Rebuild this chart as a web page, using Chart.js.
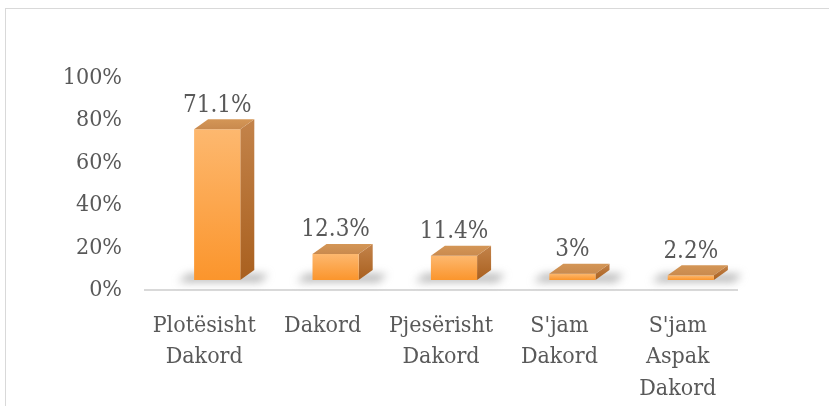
<!DOCTYPE html>
<html>
<head>
<meta charset="utf-8">
<script src="https://cdn.jsdelivr.net/npm/chart.js@4"></script>
<style>
  html, body { margin: 0; padding: 0; background: #fff; overflow: hidden; }
  #wrap { position: relative; width: 829px; height: 406px; }
  #frame { position: absolute; left: 5px; top: 8px; width: 900px; height: 500px; border: 1.5px solid #d9d9d9; box-sizing: border-box; }
  canvas { position: absolute; left: 0; top: 0; }
</style>
</head>
<body>
<div id="wrap">
  <div id="frame"></div>
  <canvas id="chart" width="829" height="406"></canvas>
</div>
<script>
const categories = [['Plotësisht', 'Dakord'], ['Dakord'], ['Pjesërisht', 'Dakord'], ["S'jam", 'Dakord'], ["S'jam", 'Aspak', 'Dakord']]
const values = [71.1, 12.3, 11.4, 3, 2.2]
const valueLabels = ['71.1%', '12.3%', '11.4%', '3%', '2.2%']
const tickLabels = ['0%', '20%', '40%', '60%', '80%', '100%']

const FONT = "'DejaVu Serif Condensed', 'DejaVu Serif', serif"
const TEXT = '#595959'

// draws each bar as an Excel-like 3D box from the bar element geometry
const box3d = {
    id: 'box3d',
    afterDatasetsDraw(chart) {
        const ctx = chart.ctx
        const meta = chart.getDatasetMeta(0)
        const dx = 13, dy = -10, dep = 14, rise = 10
        meta.data.forEach((bar, i) => {
            const p = bar.getProps(['x', 'y', 'base', 'width'], true)
            const fl = p.x - p.width / 2 + dx
            const fr = fl + p.width
            const ft = p.y + dy
            const fb = p.base + dy

            // floor shadow
            ctx.save()
            ctx.filter = 'blur(4px)'
            ctx.fillStyle = 'rgba(120,120,120,0.55)'
            ctx.beginPath()
            ctx.moveTo(fl - 16, fb + 2)
            ctx.lineTo(fr + 20, fb + 2)
            ctx.lineTo(fr + 28, fb - 6)
            ctx.lineTo(fl - 6, fb - 6)
            ctx.closePath()
            ctx.fill()
            ctx.restore()

            // side
            let g = ctx.createLinearGradient(0, ft - rise, 0, fb)
            g.addColorStop(0, '#c3834a')
            g.addColorStop(1, '#a9601f')
            ctx.fillStyle = g
            ctx.beginPath()
            ctx.moveTo(fr, ft)
            ctx.lineTo(fr + dep, ft - rise)
            ctx.lineTo(fr + dep, fb - rise)
            ctx.lineTo(fr, fb)
            ctx.closePath()
            ctx.fill()

            // front
            g = ctx.createLinearGradient(0, ft, 0, fb)
            g.addColorStop(0, '#fdb86f')
            g.addColorStop(1, '#fb952c')
            ctx.fillStyle = g
            ctx.fillRect(fl, ft, p.width, fb - ft)

            // top
            g = ctx.createLinearGradient(0, ft - rise, 0, ft)
            g.addColorStop(0, '#d49656')
            g.addColorStop(1, '#c98a4e')
            ctx.fillStyle = g
            ctx.beginPath()
            ctx.moveTo(fl, ft)
            ctx.lineTo(fr, ft)
            ctx.lineTo(fr + dep, ft - rise)
            ctx.lineTo(fl + dep, ft - rise)
            ctx.closePath()
            ctx.fill()

            // value label
            ctx.fillStyle = TEXT
            ctx.font = '24px ' + FONT
            ctx.textAlign = 'center'
            ctx.textBaseline = 'middle'
            ctx.fillText(valueLabels[i], (fl + fr) / 2, ft - rise - 14)
        })
    }
}

new Chart(document.getElementById('chart'), {
    type: 'bar',
    data: {
        labels: categories,
        datasets: [{
            data: values,
            backgroundColor: 'rgba(0,0,0,0)',
            barPercentage: 0.39,
            categoryPercentage: 1
        }]
    },
    options: {
        responsive: false,
        animation: false,
        events: [],
        layout: { padding: { top: 78, right: 92, left: 0, bottom: 0 } },
        plugins: { legend: { display: false }, tooltip: { enabled: false } },
        scales: {
            x: {
                grid: { display: false },
                border: { color: '#d9d9d9', width: 2 },
                ticks: { color: TEXT, font: { family: FONT, size: 23, lineHeight: 1.37 }, padding: 12, maxRotation: 0 },
                afterFit(s) { s.height = 116 }
            },
            y: {
                min: 0,
                max: 100,
                grid: { display: false },
                border: { display: false },
                ticks: {
                    stepSize: 20,
                    padding: 15,
                    color: TEXT,
                    font: { family: FONT, size: 23 },
                    callback: (v, i) => tickLabels[i]
                },
                afterFit(s) { s.width = 145 }
            }
        }
    },
    plugins: [box3d]
})
</script>
</body>
</html>
